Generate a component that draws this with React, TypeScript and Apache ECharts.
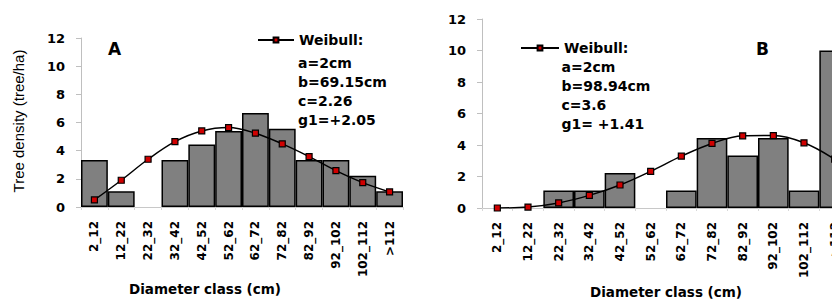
import React, { useEffect, useRef } from "react";
import * as echarts from "echarts";

const categories = ["2_12", "12_22", "22_32", "32_42", "42_52", "52_62", "62_72", "72_82", "82_92", "92_102", "102_112", ">112"];
const barsA = [3.33, 1.11, 0, 3.33, 4.44, 5.4, 6.67, 5.56, 3.33, 3.33, 2.22, 1.11];
const weibullA = [0.5, 1.9, 3.39, 4.64, 5.4, 5.64, 5.24, 4.48, 3.58, 2.58, 1.73, 1.07];
const barsB = [0, 0, 1.11, 1.11, 2.22, 0, 1.11, 4.44, 3.33, 4.44, 1.11, 10];
const weibullB = [0, 0.06, 0.32, 0.8, 1.46, 2.33, 3.29, 4.1, 4.58, 4.6, 4.14, 3.1];
const yTicks = { min: 0, max: 12, interval: 2 };
const paramsA = ["a=2cm", "b=69.15cm", "c=2.26", "g1=+2.05"];
const paramsB = ["a=2cm", "b=98.94cm", "c=3.6", "g1= +1.41"];

const BOLD = "DejaVu Sans";

function barData(values: number[]) {
  return values.map((v) => (v === 0 ? { value: v, itemStyle: { borderWidth: 0 } } : v));
}

export default function App() {
  const ref = useRef<HTMLDivElement>(null);
  useEffect(() => {
    if (!ref.current) return;
    const chart = echarts.init(ref.current, undefined, { renderer: "svg" });
    const xAxisBase = {
      type: "category" as const,
      data: categories,
      boundaryGap: true,
      axisLine: { lineStyle: { color: "#c8c8c8", width: 1 } },
      axisTick: { show: true, length: 3, lineStyle: { color: "#d8d8d8" } },
      axisLabel: {
        rotate: 90,
        interval: 0,
        margin: 14,
        color: "#000",
        fontFamily: BOLD,
        fontWeight: "bold" as const,
        fontSize: 12,
      },
    };
    const yAxisBase = {
      type: "value" as const,
      min: yTicks.min,
      max: yTicks.max,
      interval: yTicks.interval,
      splitLine: { show: false },
      axisLine: { show: true, lineStyle: { color: "#bfbfbf", width: 1 } },
      axisTick: { show: true, length: 5, lineStyle: { color: "#bfbfbf" } },
      axisLabel: {
        margin: 16,
        color: "#000",
        fontFamily: BOLD,
        fontWeight: "bold" as const,
        fontSize: 13,
      },
    };
    const barStyle = { color: "#808080", borderColor: "#000", borderWidth: 1.5 };
    const lineBase = {
      type: "line" as const,
      name: "Weibull:",
      smooth: 0.35,
      symbol: "rect",
      symbolSize: 6,
      lineStyle: { color: "#000", width: 1.5 },
      itemStyle: { color: "#d00000", borderColor: "#000", borderWidth: 1.2 },
      z: 5,
    };
    const textStyle = (x: number, y: number, text: string, size: number) => ({
      type: "text" as const,
      x,
      y,
      style: {
        text,
        fontFamily: BOLD,
        fontWeight: "bold",
        fontSize: size,
        fill: "#000",
        align: "center",
        verticalAlign: "middle",
      },
    });
    const paramText = (x: number, y: number, lines: string[]) => ({
      type: "text" as const,
      x,
      y,
      style: {
        text: lines.join("\n"),
        fontFamily: BOLD,
        fontWeight: "bold",
        fontSize: 14,
        lineHeight: 19,
        fill: "#000",
        align: "left",
        verticalAlign: "top",
      },
    });
    const legendBase = {
      data: ["Weibull:"],
      itemHeight: 6,
      itemGap: 5,
      padding: 0,
      textStyle: { fontFamily: BOLD, fontWeight: "bold" as const, fontSize: 14, color: "#000" },
      selectedMode: false,
    };
    chart.setOption({
      animation: false,
      grid: [
        { left: 81, top: 38, width: 322, height: 169 },
        { left: 482, top: 19, width: 368, height: 189 },
      ],
      xAxis: [
        { ...xAxisBase, gridIndex: 0 },
        { ...xAxisBase, gridIndex: 1 },
      ],
      yAxis: [
        { ...yAxisBase, gridIndex: 0 },
        { ...yAxisBase, gridIndex: 1 },
      ],
      legend: [
        { ...legendBase, left: 257, top: 33, itemWidth: 36 },
        { ...legendBase, left: 520, top: 41, itemWidth: 38 },
      ],
      series: [
        {
          type: "bar",
          name: "Observed A",
          xAxisIndex: 0,
          yAxisIndex: 0,
          data: barData(barsA),
          barCategoryGap: "0%",
          itemStyle: barStyle,
        },
        { ...lineBase, xAxisIndex: 0, yAxisIndex: 0, data: weibullA },
        {
          type: "bar",
          name: "Observed B",
          xAxisIndex: 1,
          yAxisIndex: 1,
          data: barData(barsB),
          barCategoryGap: "0%",
          itemStyle: barStyle,
        },
        { ...lineBase, xAxisIndex: 1, yAxisIndex: 1, data: weibullB },
      ],
      graphic: [
        textStyle(114.5, 49, "A", 17),
        textStyle(762.5, 48.5, "B", 17),
        paramText(298, 53, paramsA),
        paramText(561.5, 57, paramsB),
        textStyle(205, 289, "Diameter class (cm)", 13.5),
        textStyle(666, 292, "Diameter class (cm)", 13.5),
        {
          type: "text",
          x: 18,
          y: 121,
          rotation: Math.PI / 2,
          style: {
            text: "Tree density (tree/ha)",
            fontFamily: "Liberation Sans",
            fontSize: 15,
            fill: "#000",
            align: "center",
            verticalAlign: "middle",
          },
        },
      ],
    });
    return () => chart.dispose();
  }, []);
  return (
    <div style={{ position: "fixed", left: 0, top: 0, width: 832, height: 302, overflow: "hidden", background: "#fff" }}>
      <div ref={ref} style={{ position: "absolute", left: 0, top: 0, width: 860, height: 302 }} />
    </div>
  );
}
